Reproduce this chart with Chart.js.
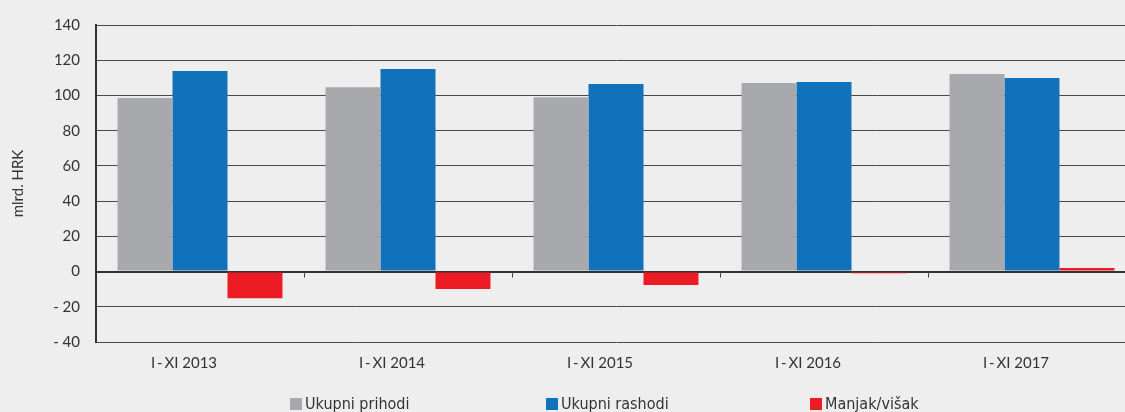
<!DOCTYPE html>
<html>
<head>
<meta charset="utf-8">
<script src="https://cdn.jsdelivr.net/npm/chart.js@4/dist/chart.umd.min.js"></script>
<style>
    html, body {
        margin: 0;
        padding: 0;
        background: #eeeeee;
        overflow: hidden;
    }
    #wrap {
        position: relative;
        width: 1137px;
        height: 412px;
    }
    #legend {
        position: absolute;
        left: 290px;
        top: 394px;
        display: flex;
        font-family: "DejaVu Sans Condensed", "Liberation Sans Narrow", sans-serif;
        font-size: 16px;
        color: #333333;
        white-space: nowrap;
    }
    #legend span.item {
        display: flex;
        align-items: center;
    }
    #legend i {
        display: inline-block;
        width: 12px;
        height: 12px;
        margin-right: 3px;
    }
</style>
</head>
<body>
<div id="wrap">
    <canvas id="budget-chart"></canvas>
    <div id="legend"></div>
</div>
<script>
const categories = ["I\u2009-\u2009XI 2013", "I\u2009-\u2009XI 2014", "I\u2009-\u2009XI 2015", "I\u2009-\u2009XI 2016", "I\u2009-\u2009XI 2017"]
const prihodi = [98.5, 104.7, 99.0, 107.0, 112.2]
const rashodi = [113.9, 115.0, 106.5, 107.6, 109.9]
const manjak = [-15.2, -9.9, -7.6, -0.9, 2.0]
const seriesNames = ["Ukupni prihodi", "Ukupni rashodi", "Manjak/višak"]
const seriesColors = ["#a8a9ad", "#1072bb", "#ed1c24"]
const legendWidths = [256, 264, 140]

const tickFont = { family: "Lato, 'Open Sans', sans-serif", size: 15 }

// small tick marks on the zero line between categories
const zeroTicks = {
    id: "zeroTicks",
    afterDatasetsDraw(chart) {
        const ctx = chart.ctx
        const x = chart.scales.x
        const y0 = chart.scales.y.getPixelForValue(0)
        ctx.save()
        ctx.strokeStyle = "#444444"
        ctx.lineWidth = 1
        for (let i = 1; i <= categories.length; i++) {
            const px = Math.round((x.getPixelForValue(i - 1) + x.getPixelForValue(i)) / 2) + 0.5
            ctx.beginPath()
            ctx.moveTo(px, y0)
            ctx.lineTo(px, y0 + 6)
            ctx.stroke()
        }
        ctx.restore()
    },
}

const datasets = [prihodi, rashodi, manjak].map((d, i) => ({
    label: seriesNames[i],
    data: d,
    backgroundColor: seriesColors[i],
    borderWidth: 0,
    categoryPercentage: 0.793,
    barPercentage: 1.0,
}))

const canvas = document.getElementById("budget-chart")
const myChart = new Chart(canvas, {
    type: "bar",
    data: {
        labels: categories,
        datasets: datasets,
    },
    options: {
        responsive: true,
        maintainAspectRatio: false,
        animation: false,
        layout: {
            padding: { top: 24, right: 1, bottom: 0, left: 0 },
        },
        plugins: {
            legend: { display: false },
            tooltip: { enabled: false },
        },
        scales: {
            x: {
                grid: { display: false, drawTicks: false },
                border: { display: false },
                ticks: {
                    font: tickFont,
                    color: "#333333",
                    padding: 12,
                    labelOffset: -16,
                    maxRotation: 0,
                },
                afterFit(scale) {
                    scale.height = 70
                },
            },
            y: {
                min: -40,
                max: 140,
                grid: {
                    drawTicks: false,
                    color: (c) => (c.tick && c.tick.value === 0 ? "#333333" : "#4a4a4a"),
                    lineWidth: (c) => (c.tick && c.tick.value === 0 ? 2 : 1),
                },
                border: { display: true, color: "#333333", width: 2 },
                ticks: {
                    stepSize: 20,
                    font: tickFont,
                    color: "#333333",
                    padding: 16,
                    callback: (v) => (v < 0 ? "- " + Math.abs(v) : String(v)),
                },
                title: {
                    display: true,
                    text: "mlrd. HRK",
                    font: { family: "Lato, 'Open Sans', sans-serif", size: 15 },
                    color: "#333333",
                    padding: { top: 9, bottom: 0 },
                },
                afterFit(scale) {
                    scale.width = 96
                },
            },
        },
    },
    plugins: [zeroTicks],
})

// legend below the chart
const legend = document.getElementById("legend")
seriesNames.forEach((name, i) => {
    const item = document.createElement("span")
    item.className = "item"
    item.style.width = legendWidths[i] + "px"
    const box = document.createElement("i")
    box.style.background = seriesColors[i]
    item.appendChild(box)
    item.appendChild(document.createTextNode(name))
    legend.appendChild(item)
})
</script>
</body>
</html>
